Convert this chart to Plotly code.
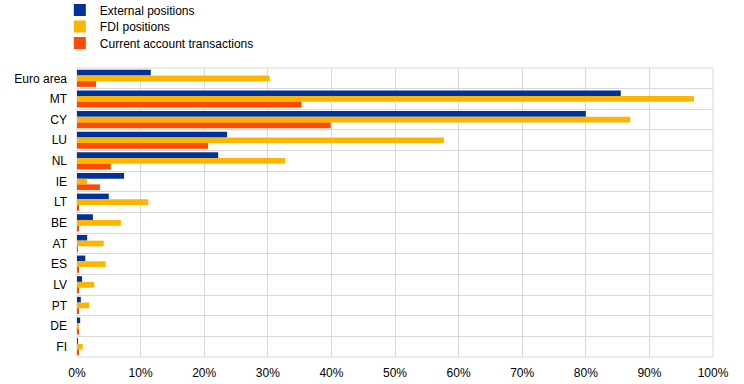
import plotly.graph_objects as go

categories = ["Euro area", "MT", "CY", "LU", "NL", "IE", "LT", "BE", "AT", "ES", "LV", "PT", "DE", "FI"]
external_positions = [11.6, 85.5, 80.0, 23.6, 22.2, 7.4, 5.0, 2.5, 1.6, 1.3, 0.8, 0.6, 0.5, 0.1]
fdi_positions = [30.3, 97.0, 87.0, 57.7, 32.7, 1.6, 11.2, 6.9, 4.2, 4.5, 2.7, 1.9, 0.3, 0.9]
current_account = [3.0, 35.3, 39.9, 20.6, 5.3, 3.6, 0.2, 0.2, 0.1, 0.2, 0.2, 0.2, 0.2, 0.2]
x_ticks = [0, 10, 20, 30, 40, 50, 60, 70, 80, 90, 100]
x_ticktext = [f"{v}%" for v in x_ticks]

series = [
    ("External positions", external_positions, "#003299", "legend"),
    ("FDI positions", fdi_positions, "#FFB400", "legend2"),
    ("Current account transactions", current_account, "#FF4B00", "legend3"),
]

fig = go.Figure()
for name, vals, color, lg in series:
    fig.add_trace(go.Bar(
        y=categories, x=vals, name=name, orientation="h",
        marker=dict(color=color, line=dict(width=0)),
        legend=lg,
    ))

# legend rows (pixel centres from top: 10, 26.5, 43) -> paper coords
plot_h = 384 - 68 - 27
def ypaper(p):
    return (384 - 27 - p) / plot_h

leg_common = dict(
    x=-0.027, xanchor="left", yanchor="middle", orientation="v",
    font=dict(size=12), itemwidth=30, bgcolor="rgba(0,0,0,0)",
)

fig.update_layout(
    width=744, height=384,
    margin=dict(l=77, r=31, t=68, b=27, autoexpand=False),
    paper_bgcolor="white", plot_bgcolor="white",
    font=dict(family="Liberation Sans, Arial, sans-serif", size=12, color="#000000"),
    barmode="group", bargap=0.17, bargroupgap=0,
    legend=dict(y=ypaper(10), **leg_common),
    legend2=dict(y=ypaper(26.5), **leg_common),
    legend3=dict(y=ypaper(43), **leg_common),
    showlegend=True,
)
fig.update_xaxes(
    range=[0, 100], tickvals=x_ticks, ticktext=x_ticktext,
    showgrid=True, gridcolor="#d9d9d9", gridwidth=1,
    zeroline=False, showline=False, ticks="", ticklen=0,
    ticklabelstandoff=7, fixedrange=True,
)
fig.update_yaxes(
    autorange="reversed", type="category", tickson="boundaries",
    showgrid=True, gridcolor="#d9d9d9", gridwidth=1,
    showline=False, ticks="", ticklen=0, ticklabelstandoff=9,
)
fig.add_shape(type="rect", xref="paper", yref="paper", x0=0, x1=1, y0=0, y1=1,
              line=dict(color="#d9d9d9", width=1), layer="below")

fig.write_html("out.html", config={"displayModeBar": False},
               post_script="document.body.style.margin='0';")
